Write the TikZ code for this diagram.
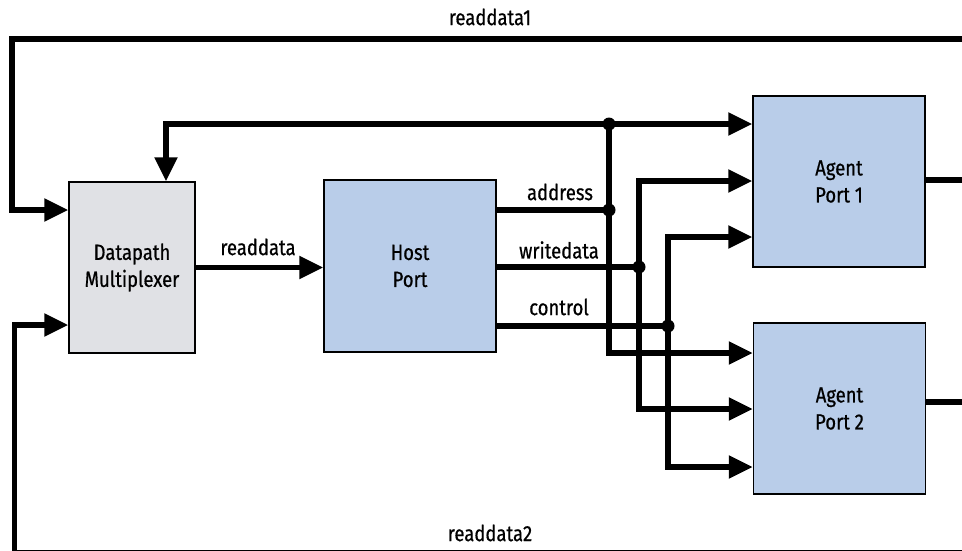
\documentclass[tikz,border=0pt]{standalone}
\usepackage{fontspec}
\setmainfont[FakeStretch=0.84,FakeBold=0.6]{Fira Sans}
\usetikzlibrary{arrows.meta}
\definecolor{portblue}{RGB}{185,205,233}
\definecolor{muxgray}{RGB}{224,225,229}
\begin{document}
\begin{tikzpicture}[x=1pt,y=-1pt,
  wire/.style={line width=5.5pt},
  tip/.style={-{Triangle[length=24pt,width=22pt]}},
  tips/.style={{Triangle[length=24pt,width=22pt]}-{Triangle[length=24pt,width=22pt]}},
  blk/.style={draw,line width=1.5pt,inner sep=0pt,align=center,font=\fontsize{22}{27}\selectfont},
  lab/.style={font=\fontsize{22}{24}\selectfont,inner sep=0pt},
  jdot/.style={circle,fill,inner sep=0pt,minimum size=13pt}]
\useasboundingbox (0,0) rectangle (962,550);
\fill[white] (0,0) rectangle (962,550);
% blocks
\node[blk,fill=muxgray,minimum width=126pt,minimum height=171pt] (dm) at (132,267.5) {Datapath\\Multiplexer};
\node[blk,fill=portblue,minimum width=172pt,minimum height=172pt] (hp) at (410,266) {Host\\Port};
\node[blk,fill=portblue,minimum width=172pt,minimum height=171pt] (ap1) at (839,181.5) {Agent\\Port 1};
\node[blk,fill=portblue,minimum width=172pt,minimum height=171pt] (ap2) at (839.5,408.5) {Agent\\Port 2};
% helper coordinates
\coordinate (r1R) at (966,39);
\coordinate (r1c) at (12,39);
\coordinate (r2R) at (966,553);
\coordinate (r2c) at (14.5,553);
\coordinate (y210) at (0,210);
\coordinate (y325) at (0,325);
\coordinate (sc) at (166,124);
\coordinate (ja) at (609,124);
\coordinate (ca) at (609,210);
\coordinate (t2) at (639,181);
\coordinate (cw) at (639,267);
\coordinate (t3) at (668,237);
\coordinate (cc) at (668,326);
\coordinate (y353) at (0,353);
\coordinate (y409) at (0,409);
\coordinate (y467) at (0,467);
\coordinate (o1) at (966,180);
\coordinate (o2) at (966,402);
% readdata1 / readdata2 feedback
\draw[wire,tip] (r1R) -- (r1c) |- (dm.west |- y210);
\draw[wire,tip] (r2R) -- (r2c) |- (dm.west |- y325);
% select line
\draw[wire,tips] (dm.north -| sc) -- (sc) -- (ap1.west |- sc);
% readdata
\draw[wire,tip] (dm.east) -- (hp.west |- dm.east);
% host outputs
\draw[wire] (hp.east |- ca) -- (ca);
\draw[wire] (hp.east |- cw) -- (cw);
\draw[wire] (hp.east |- cc) -- (cc);
% buses
\draw[wire,tip] (ja) |- (ap2.west |- y353);
\draw[wire,tips] (ap1.west |- t2) -- (t2) |- (ap2.west |- y409);
\draw[wire,tips] (ap1.west |- t3) -- (t3) |- (ap2.west |- y467);
% agent outputs
\draw[wire] (ap1.east |- o1) -- (o1);
\draw[wire] (ap2.east |- o2) -- (o2);
% junction dots
\node[jdot] (d1) at (ja) {};
\node[jdot] (d2) at (ca) {};
\node[jdot] (d3) at (cw) {};
\node[jdot] (d4) at (cc) {};
% labels
\node[lab] (l1) at (490,17) {readdata1};
\node[lab] (l2) at (490,533) {readdata2};
\node[lab] (l3) at (258,247) {readdata};
\node[lab] (l4) at (560,192) {address};
\node[lab] (l5) at (559,250) {writedata};
\node[lab] (l6) at (559,307) {control};
\end{tikzpicture}
\end{document}
